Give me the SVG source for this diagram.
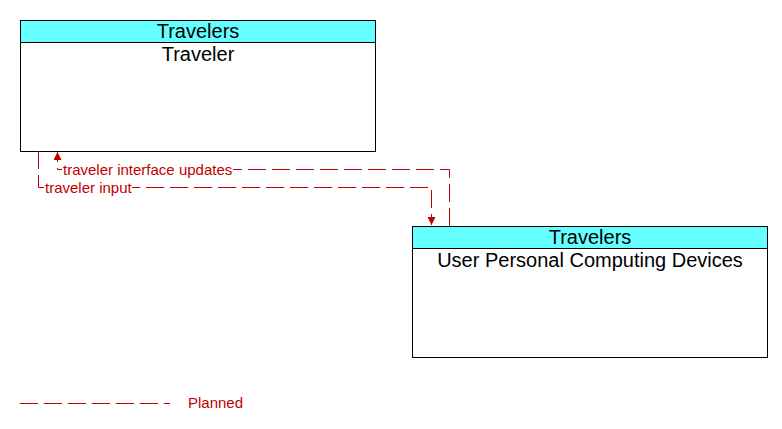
<svg xmlns="http://www.w3.org/2000/svg" width="782" height="429" viewBox="0 0 782 429">
<style>
.box{fill:#fff;stroke:#000;stroke-width:1}
.hdr{fill:#66ffff;stroke:#000;stroke-width:1}
.t{font-family:"Liberation Sans",Arial,sans-serif;font-size:20px;fill:#000;text-anchor:middle}
.flow{fill:none;stroke:#c00000;stroke-width:1;stroke-dasharray:18 6}
.lbl{font-family:"Liberation Sans",Arial,sans-serif;font-size:15px;fill:#c00000}
</style>
<defs>
<marker id="arr" markerWidth="10" markerHeight="10" refX="8" refY="4" orient="auto" markerUnits="userSpaceOnUse">
<path d="M0,0 L8,4 L0,8 Z" fill="#c00000"/>
</marker>
</defs>
<rect width="782" height="429" fill="#fff"/>
<g id="node-traveler">
<rect class="box" x="20.5" y="20.5" width="355" height="131"/>
<rect class="hdr" x="20.5" y="20.5" width="355" height="22"/>
<text class="t" x="198" y="38">Travelers</text>
<text class="t" x="198" y="61">Traveler</text>
</g>
<g id="node-upcd">
<rect class="box" x="412.5" y="226.5" width="355" height="131"/>
<rect class="hdr" x="412.5" y="226.5" width="355" height="22"/>
<text class="t" x="590" y="244">Travelers</text>
<text class="t" x="590" y="267">User Personal Computing Devices</text>
</g>
<g id="connectors">
<path class="flow" d="M449.5,226 L449.5,169.5 L57.5,169.5 L57.5,152" marker-end="url(#arr)"/>
<path class="flow" d="M38.5,151 L38.5,187.5 L431.5,187.5 L431.5,225" marker-end="url(#arr)"/>
<rect x="62" y="162" width="171" height="14" fill="#fff"/>
<rect x="44" y="180" width="88" height="14" fill="#fff"/>
<text class="lbl" x="63" y="175">traveler interface updates</text>
<text class="lbl" x="45" y="193">traveler input</text>
</g>
<g id="legend">
<line class="flow" x1="20" y1="403.5" x2="170" y2="403.5"/>
<text class="lbl" x="188" y="408">Planned</text>
</g>
</svg>
